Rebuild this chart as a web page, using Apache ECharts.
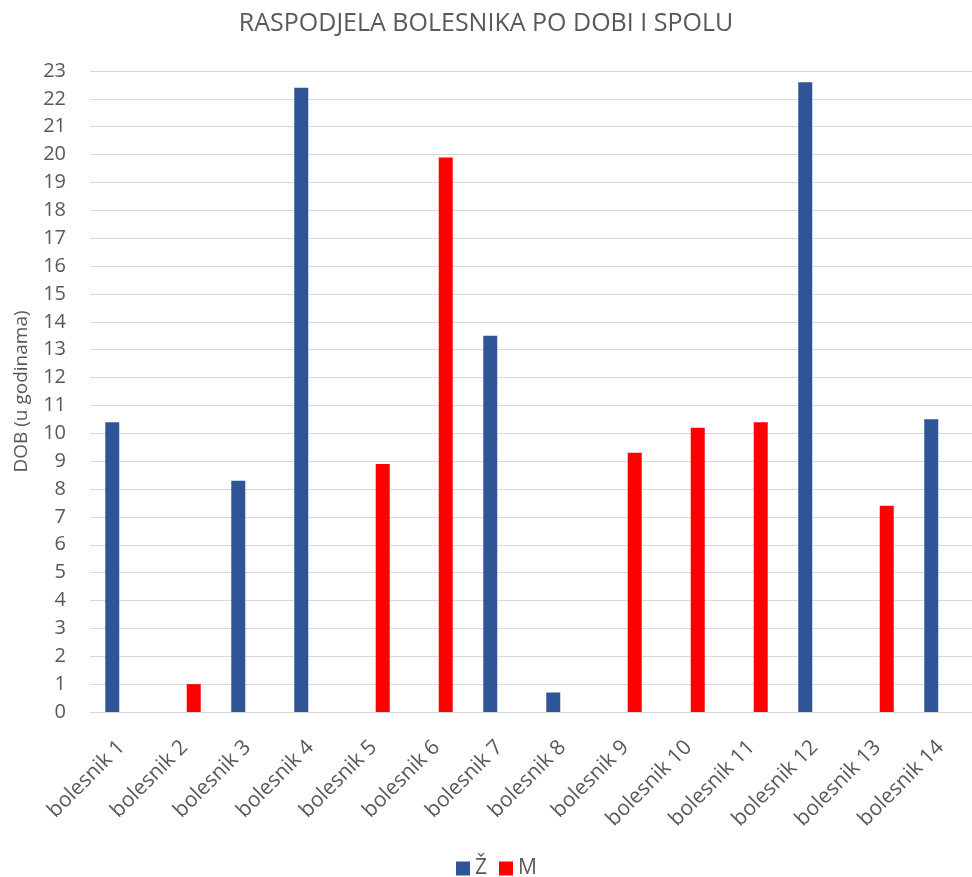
<!DOCTYPE html>
<html>
<head>
<meta charset="utf-8">
<script src="https://cdn.jsdelivr.net/npm/echarts@6/dist/echarts.min.js"></script>
<style>
  html, body { margin: 0; padding: 0; background: #fff; }
  #main { width: 972px; height: 877px; }
</style>
</head>
<body>
<div id="main"></div>
<script>
var categories = ['bolesnik 1', 'bolesnik 2', 'bolesnik 3', 'bolesnik 4', 'bolesnik 5', 'bolesnik 6', 'bolesnik 7',
  'bolesnik 8', 'bolesnik 9', 'bolesnik 10', 'bolesnik 11', 'bolesnik 12', 'bolesnik 13', 'bolesnik 14'];
var zenske = [10.4, null, 8.3, 22.4, null, null, 13.5, 0.7, null, null, null, 22.6, null, 10.5];
var muski = [null, 1.0, null, null, 8.9, 19.9, null, null, 9.3, 10.2, 10.4, null, 7.4, null];

var chart = echarts.init(document.getElementById('main'));
var textColor = '#595959';
var font = 'Open Sans';

var option = {
  animation: false,
  title: {
    text: 'RASPODJELA BOLESNIKA PO DOBI I SPOLU',
    left: 'center',
    top: 6,
    textStyle: { color: textColor, fontSize: 25, fontWeight: 'normal', fontFamily: font }
  },
  legend: {
    bottom: -7,
    left: 451,
    itemWidth: 14,
    itemHeight: 14,
    itemGap: 12,
    icon: 'rect',
    textStyle: { color: textColor, fontSize: 21, fontFamily: font },
    data: ['Ž', 'M']
  },
  grid: {
    left: 90,
    right: -11,
    top: 71,
    bottom: 165
  },
  xAxis: {
    type: 'category',
    data: categories,
    axisLine: { lineStyle: { color: '#d9d9d9' } },
    axisTick: { show: false },
    axisLabel: {
      rotate: 45,
      interval: 0,
      margin: 32,
      color: textColor,
      fontSize: 21,
      fontFamily: font
    }
  },
  yAxis: {
    type: 'value',
    min: 0,
    max: 23,
    interval: 1,
    name: 'DOB (u godinama)',
    nameLocation: 'middle',
    nameGap: 59,
    nameTextStyle: { color: textColor, fontSize: 19, fontFamily: font },
    axisLine: { show: false },
    axisTick: { show: false },
    axisLabel: { color: textColor, fontSize: 20, fontFamily: font, margin: 24 },
    splitLine: { lineStyle: { color: '#d9d9d9', width: 1 } }
  },
  series: [
    {
      name: 'Ž',
      type: 'bar',
      data: zenske,
      barWidth: 14,
      barGap: '32%',
      itemStyle: { color: '#2F5597' }
    },
    {
      name: 'M',
      type: 'bar',
      data: muski,
      barWidth: 14,
      barGap: '32%',
      itemStyle: { color: '#FF0000' }
    }
  ]
};

chart.setOption(option);
</script>
</body>
</html>
